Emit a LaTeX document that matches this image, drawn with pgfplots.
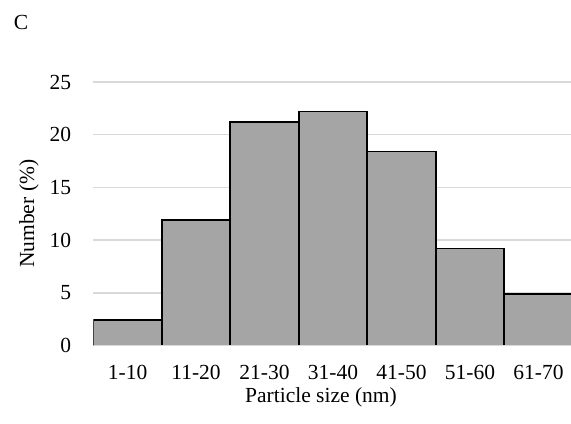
\documentclass[border=0pt]{standalone}
\usepackage{pgfplots}
\pgfplotsset{compat=1.18}
\usepackage{fontspec}
\setmainfont{Liberation Serif}
\definecolor{barfill}{HTML}{A5A5A5}
\definecolor{gridc}{HTML}{D9D9D9}
\begin{document}
\begin{tikzpicture}
\newcommand{\fs}{\fontsize{21.5bp}{25bp}\selectfont}
\useasboundingbox (-93.3bp,-78.5bp) rectangle (477.7bp,345.5bp);
\begin{axis}[
  scale only axis,
  width=477.7bp, height=263.5bp,
  xmin=-0.5, xmax=6.474,
  ymin=0, ymax=25,
  ytick={0,5,10,15,20,25},
  xtick={0,1,2,3,4,5,6},
  xticklabels={1-10,11-20,21-30,31-40,41-50,51-60,61-70},
  major tick length=0pt,
  axis line style={draw=none},
  ymajorgrids,
  grid style={gridc, line width=1.5bp},
  tick label style={font=\fs},
  /pgf/number format/assume math mode=true,
  yticklabel style={anchor=east, inner sep=0pt, xshift=-22bp},
  xticklabel style={anchor=north, inner sep=0pt, yshift=-19.5bp},
]
\addplot[ybar, bar width=1, bar shift=0pt, fill=barfill, draw=black, line width=1.6bp]
  coordinates {(0,2.4) (1,11.9) (2,21.2) (3,22.2) (4,18.4) (5,9.2) (6,4.9)};
\addplot[gridc, line width=1.5bp] coordinates {(-0.5,0) (6.474,0)};
\end{axis}
\node[font=\fs, rotate=90, anchor=center, inner sep=0pt] at (-64.3bp,131.75bp) {Number (\%)};
\node[font=\fs, anchor=north, inner sep=0pt] at (227.7bp,-41.5bp) {Particle size (nm)};
\node[font=\fs, anchor=center, inner sep=0pt] at (-72.3bp,323bp) {C};
\end{tikzpicture}
\end{document}
